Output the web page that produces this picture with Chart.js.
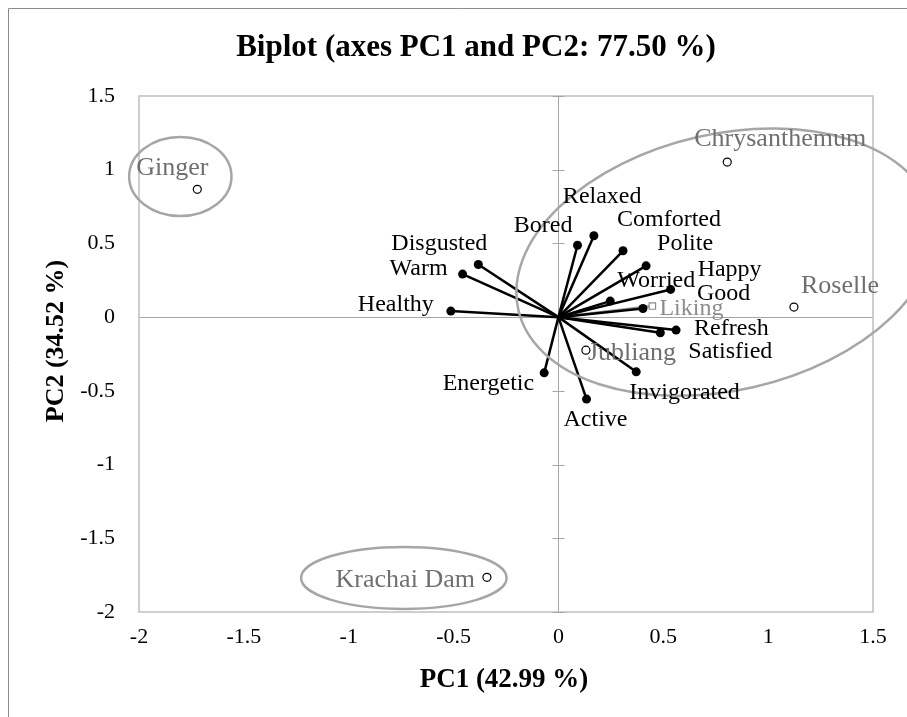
<!DOCTYPE html>
<html>
<head>
<meta charset="utf-8">
<script src="https://cdn.jsdelivr.net/npm/chart.js@4.4.1/dist/chart.umd.min.js"></script>
<style>
  html, body { margin: 0; padding: 0; background: #fff; }
  #wrap { position: relative; width: 907px; height: 717px; overflow: hidden; }
  canvas { display: block; }
</style>
</head>
<body>
<div id="wrap"><canvas id="biplot" width="907" height="717"></canvas></div>
<script>
// Axis ticks
const xTicks = [-2, -1.5, -1, -0.5, 0, 0.5, 1, 1.5];
const xTickLabels = ['-2', '-1.5', '-1', '-0.5', '0', '0.5', '1', '1.5'];
const yTicks = [-2, -1.5, -1, -0.5, 0, 0.5, 1, 1.5];
const yTickLabels = ['-2', '-1.5', '-1', '-0.5', '0', '0.5', '1', '1.5'];

// Active variables (loadings on PC1 / PC2)
const variables = ['Relaxed', 'Bored', 'Comforted', 'Polite', 'Happy', 'Good', 'Worried',
  'Refresh', 'Satisfied', 'Invigorated', 'Active', 'Energetic', 'Healthy', 'Warm', 'Disgusted'];
const varPC1 = [0.169, 0.091, 0.308, 0.418, 0.535, 0.403, 0.247,
  0.561, 0.486, 0.371, 0.134, -0.068, -0.513, -0.457, -0.382];
const varPC2 = [0.552, 0.488, 0.450, 0.348, 0.188, 0.059, 0.109,
  -0.088, -0.106, -0.371, -0.556, -0.378, 0.041, 0.292, 0.357];

// Supplementary variable
const suppVariables = ['Liking'];
const suppPC1 = [0.448];
const suppPC2 = [0.075];

// Observations (tea samples)
const samples = ['Ginger', 'Chrysanthemum', 'Roselle', 'Jubliang', 'Krachai Dam'];
const samplePC1 = [-1.722, 0.805, 1.123, 0.131, -0.341];
const samplePC2 = [0.867, 1.052, 0.068, -0.224, -1.765];

// Label placement: [dx px, dy px, align]
const labelPlacement = {
  Relaxed: [-31, -39, 'left'], Bored: [-5, -19, 'right'], Comforted: [-6, -31, 'left'],
  Polite: [11, -22, 'left'], Happy: [27, -20, 'left'], Good: [54, -15, 'left'],
  Worried: [7, -20, 'left'], Refresh: [18, -1, 'left'], Satisfied: [28, 19, 'left'],
  Invigorated: [-7, 21, 'left'], Active: [-23, 21, 'left'], Energetic: [-10, 11, 'right'],
  Healthy: [-17, -6, 'right'], Warm: [-15, -5, 'right'], Disgusted: [9, -21, 'right'],
  Liking: [7, 3, 'left'],
  Ginger: [-61, -21, 'left'], Chrysanthemum: [-33, -23, 'left'], Roselle: [7, -21, 'left'],
  Jubliang: [2, 3, 'left'], 'Krachai Dam': [-12, 3, 'right']
};

// Group ellipses in data units: centre x, centre y, radius x, radius y, screen rotation (deg)
const groupEllipses = [
  [-1.803, 0.954, 0.244, 0.268, 0],
  [0.796, 0.373, 1.013, 0.869, -13],
  [-0.737, -1.769, 0.49, 0.21, 0]
];

const SERIF = '"Liberation Serif", "Times New Roman", serif';
const GREY_LINE = '#a6a6a6';
const GREY_TEXT = '#6f6f6f';

const datasets = [];
variables.forEach((name, i) => {
  datasets.push({
    label: name,
    data: [{ x: 0, y: 0 }, { x: varPC1[i], y: varPC2[i] }],
    showLine: true,
    borderColor: '#000',
    borderWidth: 2.5,
    pointRadius: [0, 4.5],
    pointBackgroundColor: '#000',
    pointBorderColor: '#000',
    pointBorderWidth: 0
  });
});
suppVariables.forEach((name, i) => {
  datasets.push({
    label: name,
    data: [{ x: 0, y: 0 }, { x: suppPC1[i], y: suppPC2[i] }],
    showLine: true,
    borderColor: '#9a9a9a',
    borderWidth: 2.5,
    pointStyle: 'rect',
    pointRadius: [0, 4.5],
    pointBackgroundColor: '#fff',
    pointBorderColor: '#8a8a8a',
    pointBorderWidth: 1.2
  });
});
datasets.push({
  label: 'Observations',
  data: samples.map((s, i) => ({ x: samplePC1[i], y: samplePC2[i] })),
  showLine: false,
  pointStyle: 'circle',
  pointRadius: 4,
  pointBackgroundColor: '#fff',
  pointBorderColor: '#000',
  pointBorderWidth: 1.2
});

const decor = {
  id: 'decor',
  beforeDraw(chart) {
    const ctx = chart.ctx;
    ctx.save();
    ctx.fillStyle = '#fff';
    ctx.fillRect(0, 0, chart.width, chart.height);
    // outer frame
    ctx.strokeStyle = '#8c8c8c';
    ctx.lineWidth = 1;
    ctx.beginPath();
    ctx.moveTo(8.5, chart.height);
    ctx.lineTo(8.5, 8.5);
    ctx.lineTo(chart.width, 8.5);
    ctx.stroke();
    // title
    ctx.fillStyle = '#000';
    ctx.font = 'bold 31px ' + SERIF;
    ctx.textAlign = 'center';
    ctx.textBaseline = 'middle';
    ctx.fillText('Biplot (axes PC1 and PC2: 77.50 %)', 476, 48);
    // axis titles
    ctx.font = 'bold 27px ' + SERIF;
    ctx.fillText('PC1 (42.99 %)', 504, 680);
    ctx.font = 'bold 26px ' + SERIF;
    ctx.translate(56, 341);
    ctx.rotate(-Math.PI / 2);
    ctx.fillText('PC2 (34.52 %)', 0, 0);
    ctx.restore();
  },
  beforeDatasetsDraw(chart) {
    const ctx = chart.ctx, a = chart.chartArea;
    const sx = chart.scales.x, sy = chart.scales.y;
    ctx.save();
    ctx.strokeStyle = '#bfbfbf';
    ctx.lineWidth = 1.5;
    ctx.strokeRect(a.left, a.top, a.right - a.left, a.bottom - a.top);
    // cross ticks on the vertical zero line
    ctx.strokeStyle = GREY_LINE;
    ctx.lineWidth = 1;
    const x0 = Math.round(sx.getPixelForValue(0)) + 0.5;
    yTicks.forEach(v => {
      const py = Math.round(sy.getPixelForValue(v)) + 0.5;
      ctx.beginPath();
      ctx.moveTo(x0 - 6, py);
      ctx.lineTo(x0 + 6, py);
      ctx.stroke();
    });
    ctx.restore();
  },
  afterDatasetsDraw(chart) {
    const ctx = chart.ctx;
    const sx = chart.scales.x, sy = chart.scales.y;
    ctx.save();
    // group ellipses
    ctx.strokeStyle = GREY_LINE;
    ctx.lineWidth = 2.5;
    groupEllipses.forEach(e => {
      const cx = sx.getPixelForValue(e[0]);
      const cy = sy.getPixelForValue(e[1]);
      const rx = Math.abs(sx.getPixelForValue(e[2]) - sx.getPixelForValue(0));
      const ry = Math.abs(sy.getPixelForValue(e[3]) - sy.getPixelForValue(0));
      ctx.beginPath();
      ctx.ellipse(cx, cy, rx, ry, e[4] * Math.PI / 180, 0, Math.PI * 2);
      ctx.stroke();
    });
    // labels
    ctx.textBaseline = 'middle';
    const put = (name, x, y, color, size) => {
      const p = labelPlacement[name];
      ctx.fillStyle = color;
      ctx.font = size + 'px ' + SERIF;
      ctx.textAlign = p[2];
      ctx.fillText(name, sx.getPixelForValue(x) + p[0], sy.getPixelForValue(y) + p[1]);
    };
    variables.forEach((n, i) => put(n, varPC1[i], varPC2[i], '#000', 24));
    suppVariables.forEach((n, i) => put(n, suppPC1[i], suppPC2[i], '#8c8c8c', 24));
    samples.forEach((n, i) => put(n, samplePC1[i], samplePC2[i], GREY_TEXT, 26));
    ctx.restore();
  }
};

const tickFont = { family: SERIF, size: 22 };

new Chart(document.getElementById('biplot'), {
  type: 'scatter',
  data: { datasets },
  options: {
    responsive: false,
    devicePixelRatio: 1,
    animation: false,
    layout: { padding: { top: 96, left: 0, right: 34, bottom: 0 } },
    plugins: { legend: { display: false }, tooltip: { enabled: false }, title: { display: false } },
    scales: {
      x: {
        type: 'linear', min: -2, max: 1.5,
        afterBuildTicks: s => { s.ticks = xTicks.map(v => ({ value: v })); },
        afterFit: s => { s.height = 105; },
        border: { display: false },
        grid: {
          drawTicks: false,
          color: c => (c.tick && c.tick.value === 0 ? GREY_LINE : 'rgba(0,0,0,0)'),
          lineWidth: 1
        },
        ticks: {
          color: '#000', font: tickFont, padding: 12, maxRotation: 0, autoSkip: false,
          callback: (v) => xTickLabels[xTicks.indexOf(v)]
        }
      },
      y: {
        type: 'linear', min: -2, max: 1.5,
        afterBuildTicks: s => { s.ticks = yTicks.map(v => ({ value: v })); },
        afterFit: s => { s.width = 139; },
        border: { display: false },
        grid: {
          drawTicks: false,
          color: c => (c.tick && c.tick.value === 0 ? GREY_LINE : 'rgba(0,0,0,0)'),
          lineWidth: 1
        },
        ticks: {
          color: '#000', font: tickFont, padding: 24, autoSkip: false,
          callback: (v) => yTickLabels[yTicks.indexOf(v)]
        }
      }
    }
  },
  plugins: [decor]
});
</script>
</body>
</html>
